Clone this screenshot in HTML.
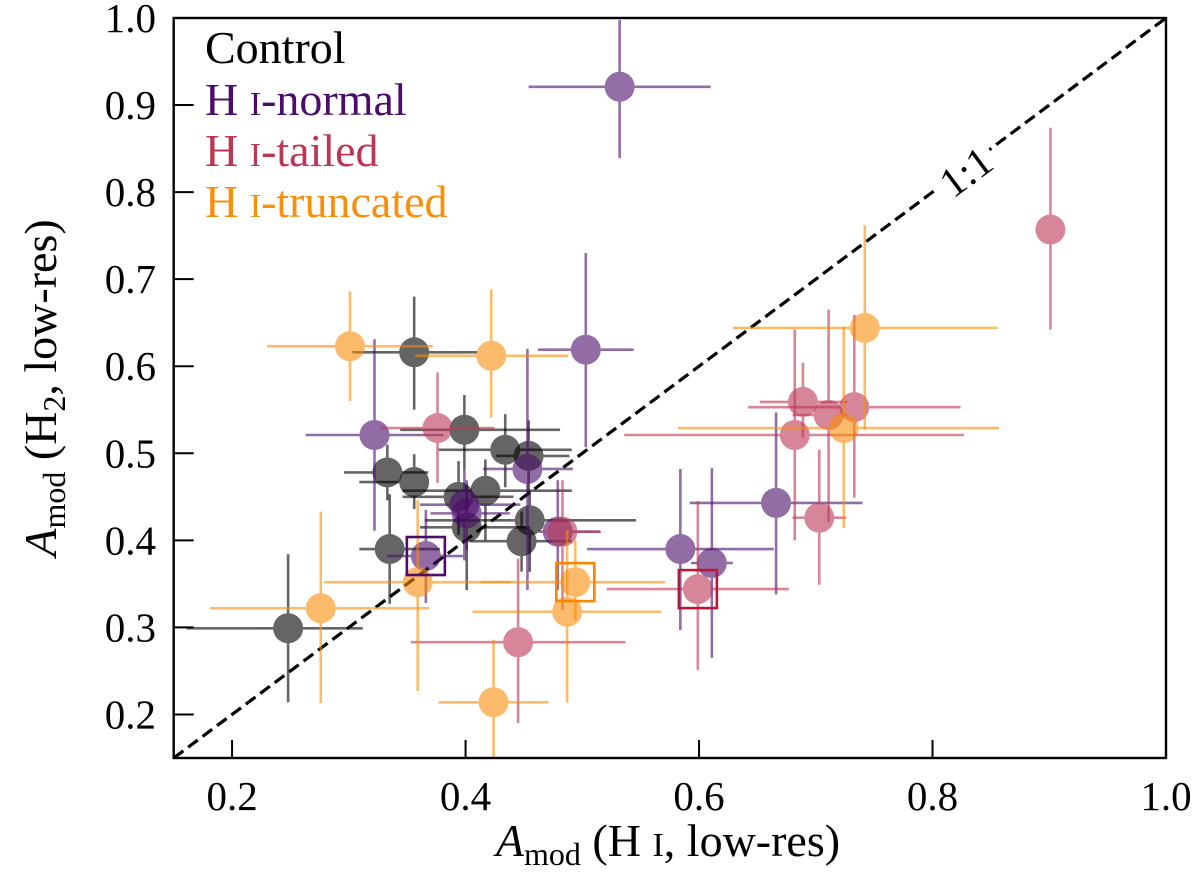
<!DOCTYPE html>
<html><head><meta charset="utf-8"><style>
html,body{margin:0;padding:0;background:#fff;}
svg{display:block;font-family:"Liberation Serif",serif;}
</style></head><body>
<svg id="chart" width="1200" height="890" viewBox="0 0 1200 890" xmlns="http://www.w3.org/2000/svg">
<g id="marks"></g>
<g id="axes"></g>
</svg>
<script>
// ---- data (value, lower bound, upper bound) ----
const ctrlX  = [0.248,0.356,0.399,0.333,0.356,0.394,0.417,0.434,0.454,0.455,0.448,0.401,0.335];
const ctrlXlo= [0.161,0.303,0.344,0.296,0.309,0.346,0.346,0.377,0.426,0.365,0.404,0.361,0.309];
const ctrlXhi= [0.312,0.410,0.481,0.368,0.368,0.441,0.491,0.491,0.489,0.546,0.491,0.455,0.378];
const ctrlY  = [0.299,0.616,0.527,0.478,0.467,0.450,0.457,0.504,0.497,0.423,0.399,0.415,0.390];
const ctrlYlo= [0.214,0.550,0.481,0.446,0.436,0.406,0.400,0.461,0.456,0.364,0.364,0.343,0.327];
const ctrlYhi= [0.384,0.680,0.567,0.510,0.499,0.491,0.493,0.545,0.538,0.457,0.433,0.464,0.453];

const normX  = [0.532,0.503,0.322,0.453,0.399,0.401,0.366,0.479,0.584,0.611,0.666];
const normXlo= [0.454,0.462,0.263,0.415,0.361,0.370,0.333,0.463,0.504,0.593,0.592];
const normXhi= [0.610,0.544,0.381,0.492,0.447,0.438,0.398,0.515,0.664,0.629,0.740];
const normY  = [0.921,0.619,0.521,0.482,0.441,0.431,0.382,0.410,0.390,0.374,0.443];
const normYlo= [0.839,0.507,0.411,0.343,0.377,0.389,0.328,0.343,0.297,0.265,0.338];
const normYhi= [0.998,0.730,0.631,0.620,0.481,0.469,0.435,0.469,0.482,0.483,0.547];

const tailX  = [0.901,0.376,0.483,0.445,0.599,0.689,0.711,0.733,0.682,0.703];
const tailXlo= [0.892,0.327,0.466,0.353,0.521,0.652,0.680,0.642,0.536,0.680];
const tailXhi= [0.911,0.425,0.516,0.537,0.677,0.727,0.727,0.824,0.827,0.726];
const tailY  = [0.757,0.529,0.410,0.283,0.344,0.559,0.544,0.553,0.521,0.426];
const tailYlo= [0.642,0.466,0.320,0.190,0.251,0.518,0.421,0.449,0.400,0.349];
const tailYhi= [0.874,0.593,0.469,0.379,0.445,0.604,0.665,0.659,0.642,0.504];

const truncX  = [0.301,0.422,0.359,0.276,0.494,0.487,0.424,0.742,0.724];
const truncXlo= [0.230,0.357,0.279,0.181,0.413,0.406,0.377,0.629,0.582];
const truncXhi= [0.372,0.488,0.438,0.369,0.571,0.568,0.471,0.856,0.857];
const truncY  = [0.623,0.612,0.352,0.322,0.352,0.318,0.214,0.644,0.529];
const truncYlo= [0.560,0.541,0.227,0.213,0.308,0.214,0.120,0.527,0.414];
const truncYhi= [0.686,0.688,0.446,0.433,0.400,0.412,0.286,0.762,0.645];

// highlighted (boxed) points: [x, y]
const boxNorm = [0.366,0.382];
const boxTail = [0.599,0.344];
const boxTrunc= [0.494,0.352];

const xTicks = [0.2,0.4,0.6,0.8,1.0];
const yTicks = [0.2,0.3,0.4,0.5,0.6,0.7,0.8,0.9,1.0];
const xTickLabels = ["0.2","0.4","0.6","0.8","1.0"];
const yTickLabels = ["0.2","0.3","0.4","0.5","0.6","0.7","0.8","0.9","1.0"];

// ---- axes mapping ----
const L=173.7, R=1166, T=18, B=758, MIN=0.15, MAX=1.0;
const sx = v => L + (v-MIN)/(MAX-MIN)*(R-L);
const sy = v => B - (v-MIN)/(MAX-MIN)*(B-T);

const NS="http://www.w3.org/2000/svg";
const marks=document.getElementById('marks');
const axes=document.getElementById('axes');
function mk(tag, parent, attrs){
  const e=document.createElementNS(NS,tag);
  for(const k in attrs) e.setAttribute(k, attrs[k]);
  parent.appendChild(e); return e;
}

const defs=mk('defs',marks,{});
const cp=mk('clipPath',defs,{id:'clip'});
mk('rect',cp,{x:L,y:T,width:R-L,height:B-T});
const plot=mk('g',marks,{'clip-path':'url(#clip)'});



const oneLine=mk('line',plot,{x1:sx(MIN),y1:sy(MIN),x2:sx(MAX),y2:sy(MAX),stroke:'#000','stroke-width':3.2,'stroke-dasharray':'12,6'});



function series(name,color,X,Xlo,Xhi,Y,Ylo,Yhi){
  const g=mk('g',plot,{});
  
  
  for(let i=0;i<X.length;i++){
    const pg=mk('g',g,{opacity:0.6});
    
    
    mk('line',pg,{x1:sx(Xlo[i]),x2:sx(Xhi[i]),y1:sy(Y[i]),y2:sy(Y[i]),stroke:color,'stroke-width':2.6});
    mk('line',pg,{x1:sx(X[i]),x2:sx(X[i]),y1:sy(Ylo[i]),y2:sy(Yhi[i]),stroke:color,'stroke-width':2.6});
    mk('circle',pg,{cx:sx(X[i]),cy:sy(Y[i]),r:15,fill:color});
  }
}
const cBlack='#000', cPurple='#4b0c6b', cRed='#bc3754', cOrange='#f98e09';
series('control',cBlack,ctrlX,ctrlXlo,ctrlXhi,ctrlY,ctrlYlo,ctrlYhi);
series('hi-normal',cPurple,normX,normXlo,normXhi,normY,normYlo,normYhi);
series('hi-tailed',cRed,tailX,tailXlo,tailXhi,tailY,tailYlo,tailYhi);
series('hi-truncated',cOrange,truncX,truncXlo,truncXhi,truncY,truncYlo,truncYhi);

function box(name,color,p){
  const r=mk('rect',plot,{x:sx(p[0])-19,y:sy(p[1])-19,width:38,height:38,fill:'none',stroke:color,'stroke-width':2.6});
  
  
}
box('hi-normal-box',cPurple,boxNorm);
box('hi-tailed-box','#b5183a',boxTail);
box('hi-truncated-box','#f88600',boxTrunc);

const ang=-Math.atan((B-T)/(R-L))*180/Math.PI;
const lg=mk('g',marks,{transform:`translate(966,172) rotate(${ang})`});


mk('rect',lg,{x:-32,y:-22,width:64,height:42,fill:'#fff'});
const lt=mk('text',lg,{x:0,y:14,'text-anchor':'middle','font-size':42,fill:'#000'});
lt.textContent='1:1';

const fr=mk('rect',axes,{x:L,y:T,width:R-L,height:B-T,fill:'none',stroke:'#000','stroke-width':2.4});



xTicks.forEach((v,i)=>{
  const t=mk('line',axes,{x1:sx(v),x2:sx(v),y1:B,y2:B-18,stroke:'#000','stroke-width':2});
  
  
  const tx=mk('text',axes,{x:sx(v),y:810,'text-anchor':'middle','font-size':41,fill:'#000'});
  
  
  tx.textContent=xTickLabels[i];
});
yTicks.forEach((v,i)=>{
  const t=mk('line',axes,{x1:L,x2:L+20,y1:sy(v),y2:sy(v),stroke:'#000','stroke-width':2});
  
  
  const tx=mk('text',axes,{x:156,y:sy(v)+14,'text-anchor':'end','font-size':41,fill:'#000'});
  
  
  tx.textContent=yTickLabels[i];
});
</script>
<svg style="position:absolute;left:0;top:0" width="1200" height="890" xmlns="http://www.w3.org/2000/svg" font-family="Liberation Serif, serif">
<g font-size="46">
<text x="205" y="63" fill="#000">Control</text>
<text x="205" y="115" fill="#4b0c6b">H <tspan font-size="34">I</tspan>-normal</text>
<text x="205" y="166" fill="#bc3754">H <tspan font-size="34">I</tspan>-tailed</text>
<text x="205" y="217" fill="#f98e09">H <tspan font-size="34">I</tspan>-truncated</text>
</g>
<text x="668" y="856" text-anchor="middle" font-size="46"><tspan font-style="italic">A</tspan><tspan font-size="32" dy="9">mod</tspan><tspan dy="-9">  (H </tspan><tspan font-size="34">I</tspan>, low-res)</text>
<text transform="translate(56,388) rotate(-90)" text-anchor="middle" font-size="46"><tspan font-style="italic">A</tspan><tspan font-size="32" dy="9">mod</tspan><tspan dy="-9">  (H</tspan><tspan font-size="32" dy="9">2</tspan><tspan dy="-9">, low-res)</tspan></text>
</svg>
</body></html>
